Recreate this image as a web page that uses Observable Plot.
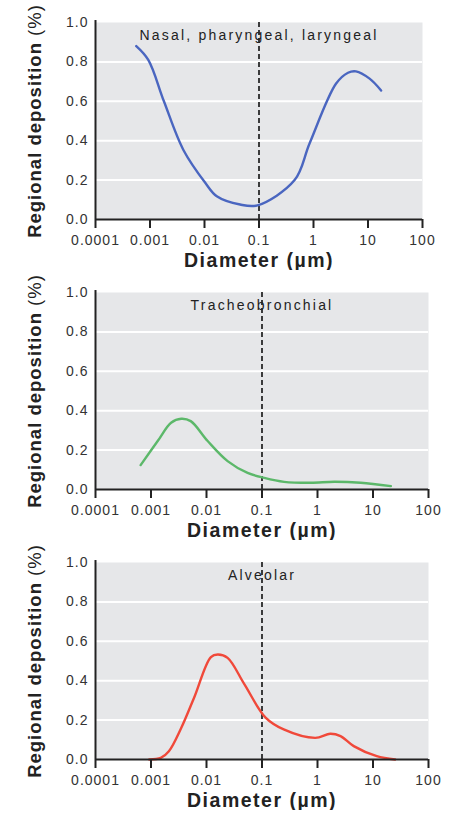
<!DOCTYPE html>
<html>
<head>
<meta charset="utf-8">
<script src="https://cdn.jsdelivr.net/npm/d3@7"></script>
<script src="https://cdn.jsdelivr.net/npm/@observablehq/plot@0.6"></script>
<style>
  body { margin: 0; background: #fff; }
  #chart { width: 455px; }
  #chart svg { display: block; }
</style>
</head>
<body>
<div id="chart"></div>
<script>
// ---- data ----
const xTicks = [0.0001, 0.001, 0.01, 0.1, 1, 10, 100];
const xTickLabels = ["0.0001", "0.001", "0.01", "0.1", "1", "10", "100"];
const yTicks = [0, 0.2, 0.4, 0.6, 0.8, 1.0];
const gridValues = [0.2, 0.4, 0.6, 0.8];
const cutoffDiameter = 0.1;
const xTitle = "Diameter (\u00b5m)";
const yTitle = "Regional deposition";
const yTitleUnit = "(%)";

const regionNames = ["Nasal, pharyngeal, laryngeal", "Tracheobronchial", "Alveolar"];
const regionColors = ["#4a66c0", "#5cb86a", "#f0493a"];

const nasalDiameter = [0.00056, 0.00093, 0.0018, 0.0041, 0.0104, 0.0168, 0.045, 0.094, 0.45, 0.85, 2.6, 4.3, 6, 10.7, 17.4];
const nasalDeposition = [0.88, 0.81, 0.60, 0.353, 0.185, 0.118, 0.076, 0.072, 0.20, 0.387, 0.69, 0.745, 0.752, 0.715, 0.655];

const tracheoDiameter = [0.00065, 0.00132, 0.0023, 0.0035, 0.0052, 0.0105, 0.024, 0.055, 0.11, 0.25, 0.76, 2, 6, 21];
const tracheoDeposition = [0.124, 0.246, 0.339, 0.359, 0.347, 0.246, 0.144, 0.084, 0.059, 0.039, 0.034, 0.039, 0.034, 0.017];

const alveolarDiameter = [0.00093, 0.0015, 0.0021, 0.0035, 0.006, 0.012, 0.016, 0.024, 0.048, 0.116, 0.246, 0.91, 1.7, 2.6, 4.5, 11.7, 25];
const alveolarDeposition = [0.0, 0.008, 0.042, 0.16, 0.315, 0.52, 0.533, 0.516, 0.383, 0.213, 0.153, 0.11, 0.131, 0.119, 0.068, 0.017, 0.0];

const panels = [
  {name: regionNames[0], color: regionColors[0], d: nasalDiameter, v: nasalDeposition, mr: 33},
  {name: regionNames[1], color: regionColors[1], d: tracheoDiameter, v: tracheoDeposition, mr: 27},
  {name: regionNames[2], color: regionColors[2], d: alveolarDiameter, v: alveolarDeposition, mr: 27}
];

const FONT = "'Liberation Sans', Arial, Helvetica, sans-serif";
const container = document.getElementById("chart");
const xLabelOf = (d) => xTickLabels[xTicks.indexOf(d)];

panels.forEach((p) => {
  const data = p.d.map((d, i) => ({d, v: p.v[i]}));
  const svg = Plot.plot({
    width: 455,
    height: 270,
    marginTop: 22,
    marginBottom: 51,
    marginLeft: 95,
    marginRight: p.mr,
    style: {fontFamily: FONT, background: "#fff"},
    x: {type: "log", domain: [0.0001, 100]},
    y: {domain: [0, 1]},
    marks: [
      Plot.frame({fill: "#e6e7e9", stroke: "none"}),
      Plot.ruleY(gridValues, {stroke: "#fff", strokeWidth: 2}),
      Plot.ruleX([cutoffDiameter], {y1: 0, y2: 1.01, stroke: "#111", strokeWidth: 1.6, strokeDasharray: "5,3"}),
      Plot.line(data, {x: "d", y: "v", stroke: p.color, strokeWidth: 2.4, curve: "catmull-rom"}),
      Plot.ruleY([0], {stroke: "#222", strokeWidth: 2}),
      Plot.ruleX([0.0001], {y1: 0, y2: 1.01, stroke: "#222", strokeWidth: 2}),
      Plot.axisX({ticks: xTicks, tickFormat: xLabelOf, tickSize: 9, tickPadding: 7,
        stroke: "#222", strokeWidth: 2, strokeOpacity: 1, fontSize: 14, fill: "#333", label: null}),
      Plot.axisY({ticks: yTicks, tickFormat: (d) => d.toFixed(1), tickSize: 0, tickPadding: 7,
        fontSize: 14, fill: "#333", label: null}),
      Plot.text([p.name], {x: cutoffDiameter, y: 0.935, text: (d) => d, fontSize: 14, fill: "#222",
        textAnchor: "middle", className: "plabel"}),
      Plot.text([xTitle], {frameAnchor: "bottom", dy: 47, text: (d) => d, fontSize: 19.5, fontWeight: "bold",
        fill: "#222", textAnchor: "middle", className: "xtitle"}),
      Plot.text([yTitle], {frameAnchor: "left", dx: -60, dy: 0, rotate: -90, text: (d) => d, fontSize: 18.5,
        fontWeight: "bold", fill: "#222", textAnchor: "middle", className: "ytitle"})
    ]
  });
  const s = d3.select(svg);
  // add the lighter "(%)" unit as a tspan of the y title
  s.selectAll("g.ytitle text").each(function () {
    const t = d3.select(this);
    t.text(null);
    t.attr("letter-spacing", "1");
    t.append("tspan").text(yTitle + " ");
    t.append("tspan").attr("font-weight", "normal").text(yTitleUnit);
  });
  s.selectAll("g.plabel text").attr("letter-spacing", "2.2");
  s.selectAll("g.xtitle text").attr("letter-spacing", "1.5");
  s.selectAll("[aria-label='x-axis tick label'] text, [aria-label='y-axis tick label'] text").attr("letter-spacing", "1");
  container.appendChild(svg);
});
</script>
</body>
</html>
